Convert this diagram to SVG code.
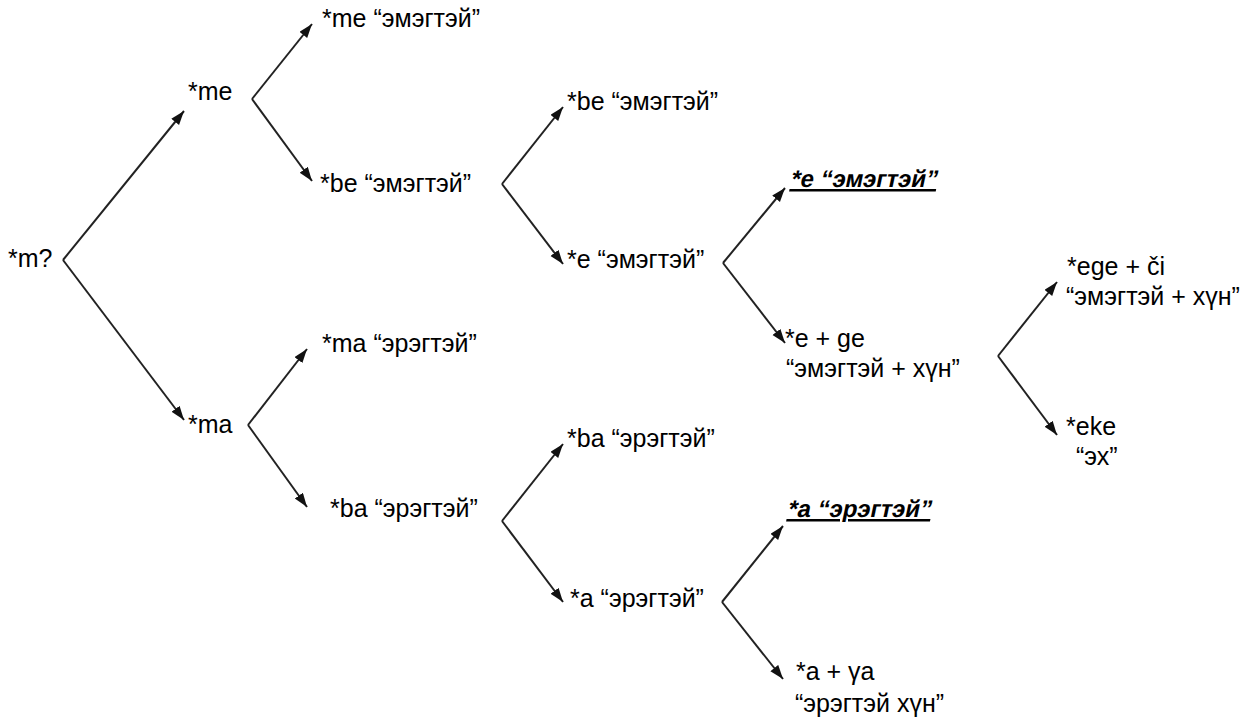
<svg xmlns="http://www.w3.org/2000/svg" width="1257" height="720" viewBox="0 0 1257 720">
<style>
text{font-family:"Liberation Sans",Arial,sans-serif;font-size:25px;fill:#000}
.hl{font-weight:bold;font-size:24px;text-decoration:underline}
.c{fill:none;stroke:#222;stroke-width:2;marker-end:url(#ah)}
</style>
<defs>
<marker id="ah" markerUnits="userSpaceOnUse" markerWidth="16" markerHeight="12" refX="14" refY="5" orient="auto">
<path d="M0,0 L14,5 L0,10 z" fill="#111"/>
</marker>
</defs>
<rect width="1257" height="720" fill="#fff"/>
<g id="connectors">
<path class="c" d="M63,260 L184,111"/>
<path class="c" d="M63,260 L184,420"/>
<path class="c" d="M252,99 L312,24"/>
<path class="c" d="M252,99 L312,181"/>
<path class="c" d="M248,425 L307,349"/>
<path class="c" d="M248,425 L307,507"/>
<path class="c" d="M502,184 L563,107"/>
<path class="c" d="M502,184 L563,264"/>
<path class="c" d="M723,263 L785,188"/>
<path class="c" d="M723,263 L785,343"/>
<path class="c" d="M998,356 L1057,282"/>
<path class="c" d="M998,356 L1057,435"/>
<path class="c" d="M502,521 L563,444"/>
<path class="c" d="M502,521 L563,602"/>
<path class="c" d="M722,602 L783,526"/>
<path class="c" d="M722,602 L783,679"/>
</g>
<g id="n-m"><text x="8" y="267">*m?</text></g>
<g id="n-me"><text x="188" y="100">*me</text></g>
<g id="n-ma"><text x="188" y="433">*ma</text></g>
<g id="n-me-f"><text x="322" y="27">*me “эмэгтэй”</text></g>
<g id="n-be-f"><text x="320" y="192">*be “эмэгтэй”</text></g>
<g id="n-ma-m"><text x="322" y="352">*ma “эрэгтэй”</text></g>
<g id="n-ba-m"><text x="330" y="517">*ba “эрэгтэй”</text></g>
<g id="n-be-f2"><text x="567" y="110">*be “эмэгтэй”</text></g>
<g id="n-e-f"><text x="567" y="268">*e “эмэгтэй”</text></g>
<g id="n-ba-m2"><text x="567" y="447">*ba “эрэгтэй”</text></g>
<g id="n-a-m"><text x="570" y="607">*a “эрэгтэй”</text></g>
<g id="n-e-hl" transform="translate(790,187) skewX(-12)"><text class="hl" x="0" y="0">*e “эмэгтэй”</text></g>
<g id="n-ege"><text x="785" y="347">*e + ge</text><text x="786" y="377">“эмэгтэй + хүн”</text></g>
<g id="n-a-hl" transform="translate(787,517) skewX(-12)"><text class="hl" x="0" y="0">*a “эрэгтэй”</text></g>
<g id="n-aga"><text x="796" y="680">*a + γa</text><text x="795" y="712">“эрэгтэй хүн”</text></g>
<g id="n-egeci"><text x="1067" y="275">*ege + či</text><text x="1066" y="305">“эмэгтэй + хүн”</text></g>
<g id="n-eke"><text x="1066" y="435">*eke</text><text x="1076" y="465">“эх”</text></g>
</svg>
